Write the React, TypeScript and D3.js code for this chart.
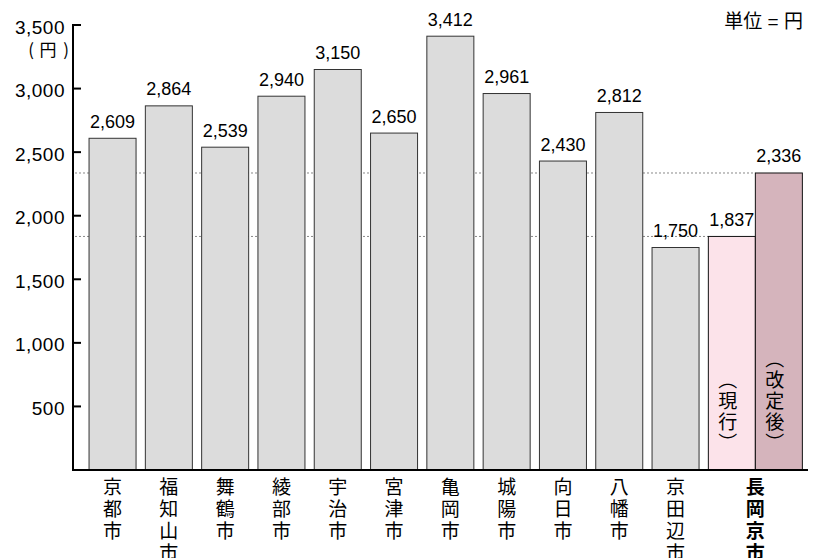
import React from 'react';
import * as d3 from 'd3';

// 各市の料金（円）
const cities = ['京都市', '福知山市', '舞鶴市', '綾部市', '宇治市', '宮津市', '亀岡市', '城陽市', '向日市', '八幡市', '京田辺市'];
const rates = [2609, 2864, 2539, 2940, 3150, 2650, 3412, 2961, 2430, 2812, 1750];

// 長岡京市（現行・改定後）
const targetCity = '長岡京市';
const targetKeys = ['現行', '改定後'];
const targetRates = [1837, 2336];
const targetColors = ['#fce3ea', '#d5b4bc'];

const yTicks = [500, 1000, 1500, 2000, 2500, 3000, 3500];

const W = 818;
const H = 558;
const FONT = "'Liberation Sans', Arial, 'Noto Sans CJK JP', sans-serif";
const JP = "'Noto Sans CJK JP', sans-serif";

const fmt = d3.format(',');

export default function App() {
  const y = d3.scaleLinear().domain([0, 3500]).range([470, 25]);
  const x = d3.scaleBand<string>()
    .domain([...cities, targetCity])
    .range([84.4, 84.4 + 12 * 56.3])
    .paddingInner(0.165)
    .paddingOuter(0.0825);
  const bw = x.bandwidth();
  const x0 = x(targetCity)!;
  const xt = d3.scaleBand<string>().domain(targetKeys).range([x0, x0 + 2 * bw]);

  const axisX = 73;
  const baseY = y(0);

  // 縦書きラベル（1つのtextで縦組み）
  const vText = (s: string, cx: number, top: number, size: number, gap: number, bold = false) => (
    <text x={cx} y={top} fontSize={size} fontFamily={JP} fontWeight={bold ? 'bold' : 'normal'}
      letterSpacing={gap} style={{ writingMode: 'vertical-rl' }} dominantBaseline="central">{s}</text>
  );

  return (
    <svg width={W} height={H} style={{ position: 'absolute', left: 0, top: 0, background: '#fff' }} fontFamily={FONT}>
      {/* 参照線 */}
      {targetKeys.map((k, i) => (
        <line key={k} x1={axisX + 2} x2={xt(k)!} y1={y(targetRates[i])} y2={y(targetRates[i])}
          stroke="#888" strokeWidth={1} strokeDasharray="2,2" />
      ))}

      {/* 棒 */}
      {cities.map((c, i) => (
        <g key={c}>
          <rect x={x(c)!} y={y(rates[i])} width={bw} height={baseY - y(rates[i])}
            fill="#dcdcdc" stroke="#333" strokeWidth={1} />
          <text x={x(c)! + bw / 2} y={y(rates[i]) - 10.5} fontSize={18} textAnchor="middle">{fmt(rates[i])}</text>
        </g>
      ))}
      {targetKeys.map((k, i) => (
        <g key={k}>
          <rect x={xt(k)!} y={y(targetRates[i])} width={bw} height={baseY - y(targetRates[i])}
            fill={targetColors[i]} stroke="#111" strokeWidth={1} />
          <text x={xt(k)! + bw / 2} y={y(targetRates[i]) - 10.5} fontSize={18} textAnchor="middle">{fmt(targetRates[i])}</text>
        </g>
      ))}

      {/* 棒の中の縦書き */}
      {targetKeys.map((k) => {
        const s = '（' + k + '）';
        const n = Array.from(s).length;
        return <g key={k}>{vText(s, xt(k)! + bw / 2 - 4, 454 - n * 21, 19, 2)}</g>;
      })}

      {/* 軸 */}
      <line x1={axisX} x2={axisX} y1={y(3500) - 1} y2={baseY + 1} stroke="#000" strokeWidth={2} />
      <line x1={axisX - 1} x2={808} y1={baseY} y2={baseY} stroke="#000" strokeWidth={2} />
      {yTicks.map((t) => (
        <g key={t}>
          <line x1={axisX} x2={axisX + 8} y1={y(t)} y2={y(t)} stroke="#000" strokeWidth={2} />
          <text x={65} y={y(t) + 8.5} fontSize={19} letterSpacing={0.5} textAnchor="end">{fmt(t)}</text>
        </g>
      ))}
      <g fontFamily={JP} fontSize={17} textAnchor="middle" dominantBaseline="central">
        <text x={31} y={48}>(</text>
        <text x={48} y={48}>円</text>
        <text x={66} y={48}>)</text>
      </g>
      <text x={803} y={28} fontSize={19} textAnchor="end">単位 = 円</text>

      {/* 市名 */}
      {cities.map((c) => (
        <g key={c}>{vText(c, x(c)! + bw / 2, 477, 19, 3)}</g>
      ))}
      <g>{vText(targetCity, x0 + bw, 477, 19, 3, true)}</g>
    </svg>
  );
}
